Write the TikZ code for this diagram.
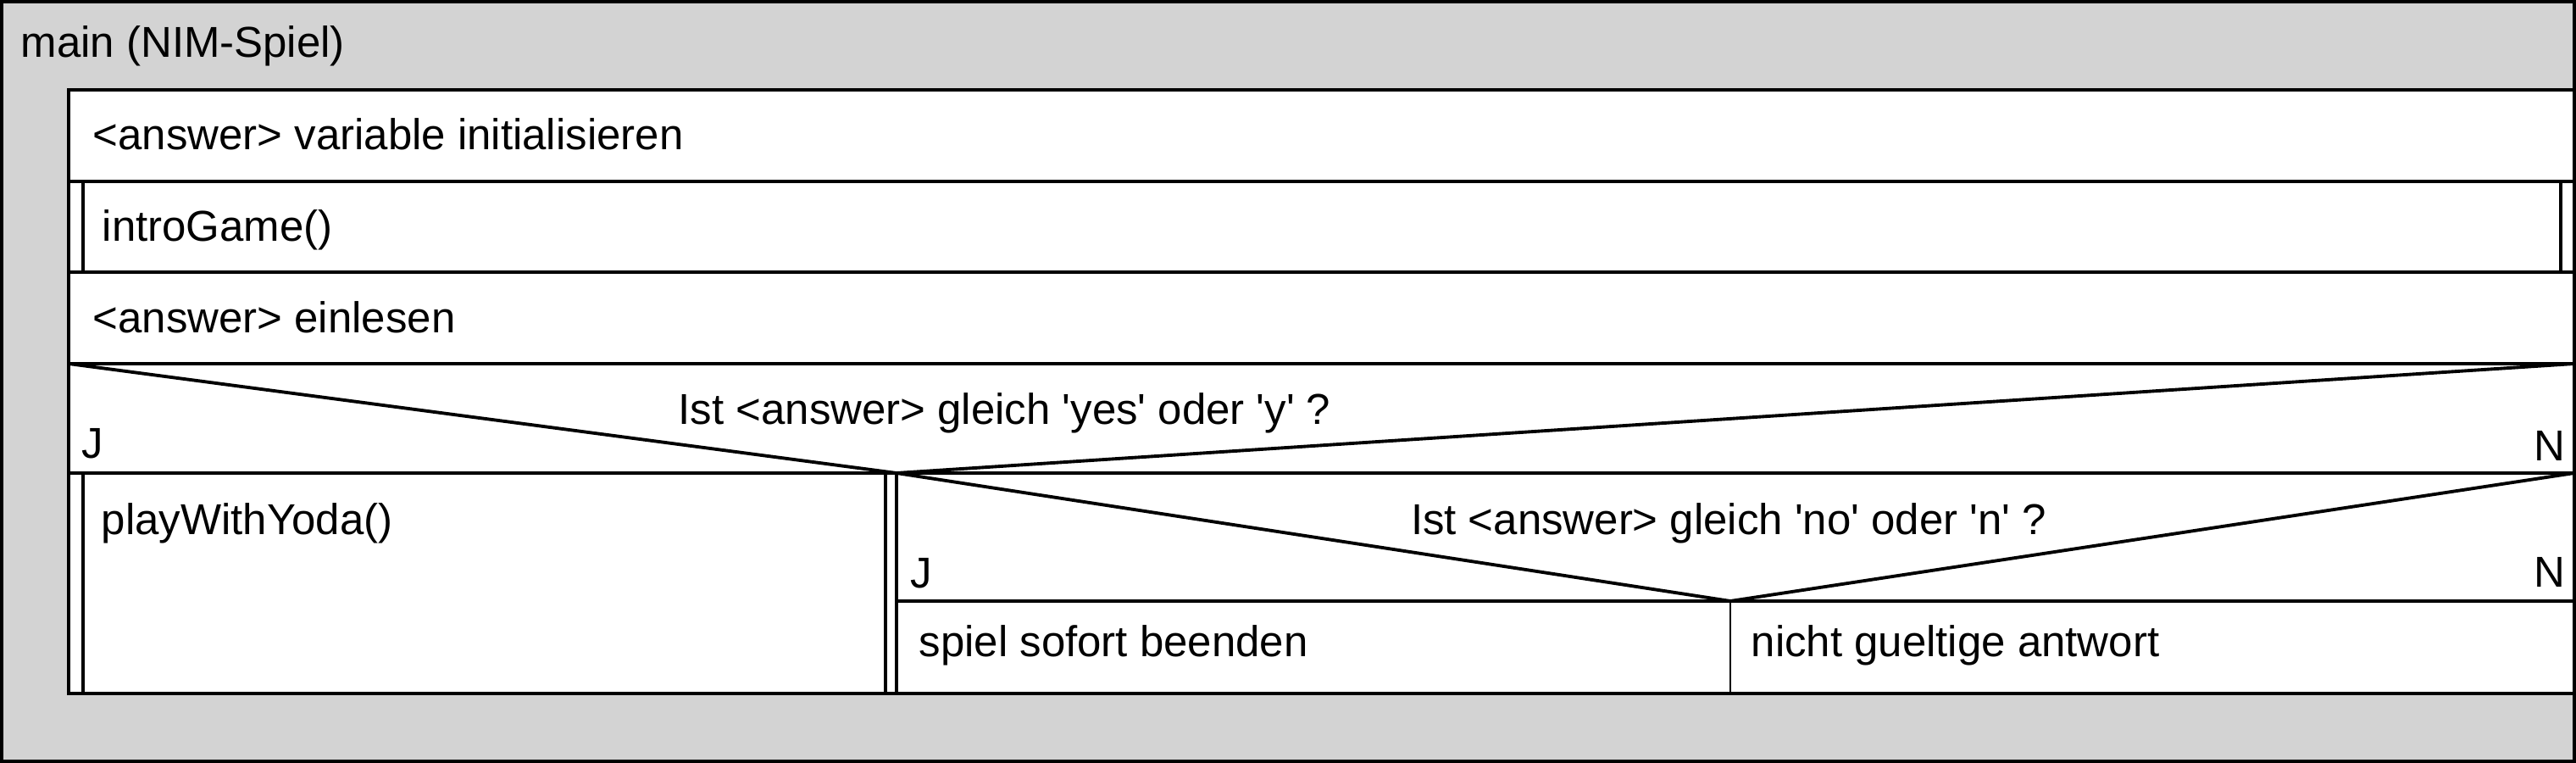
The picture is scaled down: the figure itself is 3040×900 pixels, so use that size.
\documentclass[tikz,border=0pt]{standalone}
\usepackage{fontspec}
\setmainfont{Liberation Sans}
\usetikzlibrary{positioning}
\definecolor{framegray}{RGB}{211,211,211}

\begin{document}
\begin{tikzpicture}[x=0.1mm, y=-0.1mm,
    block/.style={draw, line width=1.1pt, fill=white},
    rule/.style={line width=1.1pt},
    txt/.style={anchor=base west, inner sep=0pt, font=\fontsize{14.5}{17}\selectfont},
    txtr/.style={anchor=base east, inner sep=0pt, font=\fontsize{14.5}{17}\selectfont}]
        \useasboundingbox (0,0) rectangle (3040,900);

        % outer frame
        \draw[line width=1.1pt, fill=framegray] (2,2) rectangle (3038,898);
        \node[txt] (title) at (24,68) {main (NIM-Spiel)};

        % sequence
        \draw[block] (81,106) rectangle (3038,214);
        \node[txt] (s_1) at (109,177) {<answer> variable initialisieren};

        \draw[block] (81,214) rectangle (3038,321);
        \draw[rule] (98,214) -- (98,321);
        \draw[rule] (3022,214) -- (3022,321);
        \node[txt] (s_2) at (120,285) {introGame()};

        \draw[block] (81,321) rectangle (3038,429);
        \node[txt] (s_3) at (109,392) {<answer> einlesen};

        % first decision
        \draw[block] (81,429) rectangle (3038,818);
        \coordinate (d_1) at (1058,558);
        \draw[rule] (81,429) -- (d_1) -- (3038,429);
        \draw[rule] (81,558) -- (3038,558);
        \node[txt] (q_1) at (800,500)
            {Ist <answer> gleich \textquotesingle yes\textquotesingle{} oder \textquotesingle y\textquotesingle{} ?};
        \node[txt] (j_1) at (96,540) {J};
        \node[txtr] (n_1) at (3028,543) {N};

        % yes branch
        \draw[rule] (98,558) -- (98,818);
        \draw[rule] (1045,558) -- (1045,818);
        \draw[rule] (d_1) -- (1058,818);
        \node[txt] (s_4) at (119,630) {playWithYoda()};

        % second decision
        \coordinate (d_2) at (2042,709);
        \draw[rule] (d_1) -- (d_2) -- (3038,558);
        \draw[rule] (1058,709) -- (3038,709);
        \node[txt, anchor=base] (q_2) at (2040,630)
            {Ist <answer> gleich \textquotesingle no\textquotesingle{} oder \textquotesingle n\textquotesingle{} ?};
        \node[txt] (j_2) at (1074,693) {J};
        \node[txtr] (n_2) at (3028,692) {N};

        \draw[line width=0.6pt] (d_2) -- (2042,818);
        \node[txt] (s_5) at (1084,774) {spiel sofort beenden};
        \node[txt] (s_6) at (2066,774) {nicht gueltige antwort};

\end{tikzpicture}
\end{document}
